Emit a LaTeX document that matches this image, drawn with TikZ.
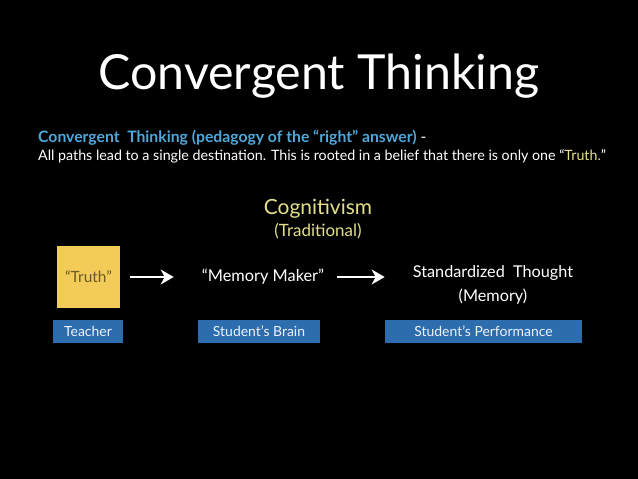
\documentclass[tikz,border=0pt]{standalone}
\usepackage{fontspec}
\setmainfont{Lato}
\usetikzlibrary{positioning,calc,arrows.meta}
\definecolor{slideblue}{HTML}{4FA8DA}
\definecolor{slideyellow}{HTML}{E4E08A}
\definecolor{notepad}{HTML}{F2CB58}
\definecolor{notetext}{HTML}{6B5A22}
\definecolor{barblue}{HTML}{2D6DAE}
\tikzset{
	label/.style={text=white, inner sep=0pt, font=\fontsize{16.4}{19}\selectfont},
	bar/.style={fill=barblue, text=white!92!barblue, minimum height=23bp, inner sep=0pt, font=\fontsize{14}{16}\selectfont},
	flow/.style={draw=white, line width=1.5bp, -{Stealth[length=13bp, width=15bp, inset=4bp]}}
}

\begin{document}
\begin{tikzpicture}[x=1bp, y=-1bp]
	\fill[black] (0,0) rectangle (638,479);
	\useasboundingbox (0,0) rectangle (638,479);

	% heading
	\node[text=white, inner sep=0pt, anchor=base, font=\fontsize{48.5}{56}\selectfont] (title) at (319, 90) {Convergent Thinking};
	\node[inner sep=0pt, anchor=base west, font=\fontsize{15.8}{18}\selectfont] (lead) at (38, 143)
		{\textcolor{slideblue}{\bfseries Convergent~ Thinking (pedagogy of the “right” answer)} \textcolor{white}{-}};
	\node[inner sep=0pt, anchor=base west, text=white, font=\fontsize{14.3}{17}\selectfont] (claim) at (38, 161)
		{All paths lead to a single destination. This is rooted in a belief that there is only one “\textcolor{slideyellow}{Truth.}”};

	\node[text=slideyellow, inner sep=0pt, anchor=base, font=\fontsize{21}{25}\selectfont] (school) at (318, 215) {Cognitivism};
	\node[text=slideyellow, inner sep=0pt, anchor=base, font=\fontsize{17}{20}\selectfont] (kind) at (318, 237) {(Traditional)};

	% chain
	\node[fill=notepad, text=notetext, minimum width=63bp, minimum height=62bp, inner sep=0pt, font=\fontsize{15.5}{18}\selectfont] (truth) at (88.5, 277) {“Truth”};
	\node[label] (memory) at (263, 277) {“Memory Maker”};
	\node[label, align=center, font=\fontsize{16.3}{24}\selectfont] (thought) at (493, 285) {Standardized~ Thought\\(Memory)};

	\draw[flow, shorten <=10bp, shorten >=28bp] (truth.east) -- (memory.west);
	\draw[flow, shorten <=13bp, shorten >=28bp] (memory.east) -- (memory.east -| thought.west);

	% roles
	\node[bar, minimum width=70bp] (teacher) at (88, 331) {Teacher};
	\node[bar, minimum width=122bp] (brain) at (259, 331) {Student’s Brain};
	\node[bar, minimum width=197bp] (performance) at (483.5, 331) {Student’s Performance};
\end{tikzpicture}
\end{document}
